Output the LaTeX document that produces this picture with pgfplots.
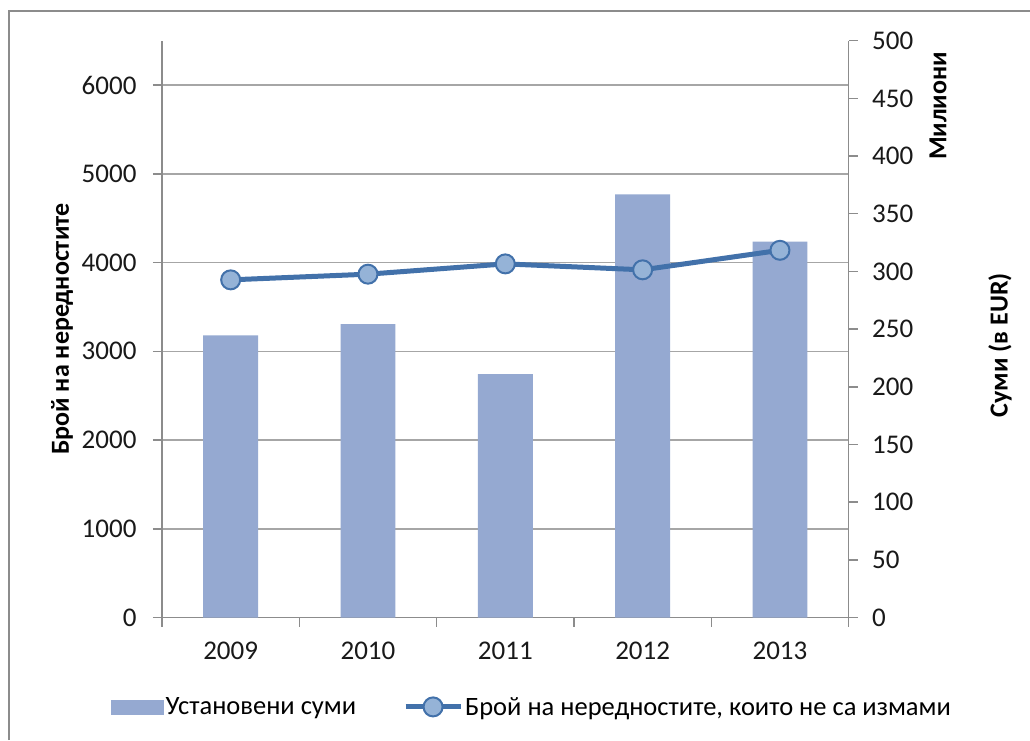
\documentclass[border=0pt]{standalone}
\usepackage{pgfplots}
\pgfplotsset{compat=1.18}
\usepackage{fontspec}
\setmainfont{Carlito}
\definecolor{barcol}{HTML}{95A9D1}
\definecolor{linecol}{HTML}{4271AA}
\definecolor{markcol}{HTML}{95B3D7}
\definecolor{gridcol}{HTML}{A6A6A6}
\definecolor{axcol}{HTML}{8C8C8C}
\begin{document}
\begin{tikzpicture}
\useasboundingbox (0,0) rectangle (1030pt,740pt);
\fill[white] (0,0) rectangle (1030pt,740pt);
\draw[axcol, line width=2.5pt] (9pt,0pt) -- (9pt,729pt) -- (1030pt,729pt);
\pgfplotsset{
 base/.style={
  scale only axis, width=686.6pt, height=576.8pt,
  at={(162pt,122.5pt)}, anchor=south west,
  xmin=-0.5, xmax=4.5, clip=false,
  font=\fontsize{26}{31}\selectfont,
  ticklabel style={font=\fontsize{27}{32}\selectfont, text=black!90},
  /pgf/number format/assume math mode=true,
  /pgf/number format/set thousands separator={},
  tick align=outside,
  major tick length=9pt, minor tick length=9pt,
  axis line style={-, axcol, line width=1.5pt},
  tick style={axcol, line width=1.5pt},
 }
}
% left axis with grid
\begin{axis}[base,
  ymin=0, ymax=6500, ytick={0,1000,...,6000},
  axis y line*=left, axis x line*=bottom,
  xtick={0,1,2,3,4}, xticklabels={2009,2010,2011,2012,2013},
  major x tick style={draw=none},
  minor xtick={-0.5,0.5,1.5,2.5,3.5,4.5},
  yticklabel style={xshift=-13pt},
  xticklabel style={yshift=-12pt},
  ymajorgrids, grid style={gridcol, line width=1.5pt},
  every axis y label/.style={at={(axis description cs:-0.1456,0.5)}, rotate=90, anchor=center},
  ylabel={\bfseries Брой на нередностите},
]
\addplot[draw=none] coordinates {(0,0)};
\end{axis}
% right axis with bars
\begin{axis}[base,
  ymin=0, ymax=500, ytick={0,50,...,500},
  axis y line*=right, hide x axis,
  yticklabel style={xshift=11pt},
  every axis y label/.style={at={(axis description cs:1.2205,0.4724)}, rotate=90, anchor=center},
  ylabel={\bfseries Суми (в EUR)},
]
\addplot[ybar, bar width=54.9pt, fill=barcol, draw=none] coordinates {(0,244.6)(1,254.4)(2,211)(3,366.8)(4,325.8)};
\node[rotate=90, font=\fontsize{26}{31}\selectfont\bfseries] at (axis description cs:1.1302,0.8868) {Милиони};
\end{axis}
% line on top
\begin{axis}[base,
  ymin=0, ymax=6500, hide axis,
  legend style={at={(axis description cs:-0.0786,-0.155)}, anchor=west, draw=none, fill=none,
    legend columns=2, /tikz/every even column/.append style={column sep=45pt},
    font=\fontsize{26.5}{31}\selectfont},
]
\addlegendimage{legend image code/.code={\fill[barcol] (0pt,-7pt) rectangle (52pt,7pt);}}
\addlegendentry{Установени суми}
\addplot[linecol, line width=5pt, mark=*, mark size=9.5pt,
  mark options={fill=markcol, draw=linecol, line width=2pt},
  legend image code/.code={\draw[mark repeat=2,mark phase=2] plot coordinates {(0pt,0pt)(27.5pt,0pt)(55pt,0pt)};}]
  coordinates {(0,3805)(1,3869)(2,3985)(3,3918)(4,4138)};
\addlegendentry{Брой на нередностите, които не са измами}
\end{axis}
\end{tikzpicture}
\end{document}
